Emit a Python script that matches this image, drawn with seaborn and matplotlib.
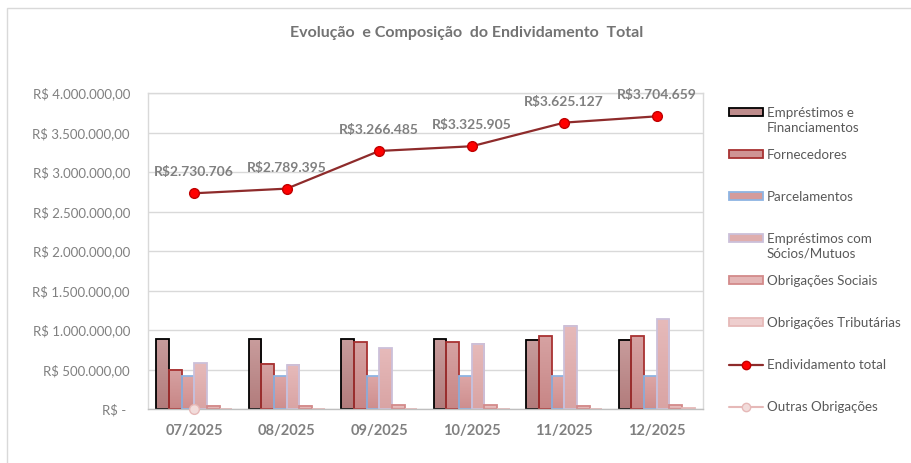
import numpy as np
import pandas as pd
import matplotlib
matplotlib.use("Agg")
import matplotlib.pyplot as plt
import seaborn as sns
from matplotlib.patches import Patch, Rectangle
from matplotlib.lines import Line2D
from matplotlib.ticker import FuncFormatter
from matplotlib.colors import LinearSegmentedColormap

# dados
meses = ["07/2025", "08/2025", "09/2025", "10/2025", "11/2025", "12/2025"]
emprestimos = [882000, 882000, 882000, 886000, 877000, 877000]
fornecedores = [494000, 574000, 844000, 844000, 920000, 920000]
parcelamentos = [414000, 414000, 414000, 414000, 414000, 414000]
socios_mutuos = [582000, 561000, 768000, 827000, 1054000, 1135000]
obrig_sociais = [38000, 38000, 47000, 50000, 38000, 50000]
obrig_tributarias = [0, 0, 0, 0, 0, 12000]
endividamento_total = [2730706, 2789395, 3266485, 3325905, 3625127, 3704659]
outras_obrigacoes = [0, np.nan, np.nan, np.nan, np.nan, np.nan]

series = ["Empréstimos e Financiamentos", "Fornecedores", "Parcelamentos",
          "Empréstimos com Sócios/Mutuos", "Obrigações Sociais", "Obrigações Tributárias"]
legend_lines = ["Empréstimos e\nFinanciamentos", "Fornecedores", "Parcelamentos",
                "Empréstimos com\nSócios/Mutuos", "Obrigações Sociais", "Obrigações Tributárias"]
valores = [emprestimos, fornecedores, parcelamentos, socios_mutuos, obrig_sociais, obrig_tributarias]

faces = ["#BE8C8C", "#CF9494", "#D49B9B", "#DFAEAE", "#E4B6B6", "#EECECE"]
topo = ["#C89C9C", "#D6A2A2", "#DCA6A6", "#E6BABA", "#EBC5C5", "#F2D6D6"]
base = ["#B27C7C", "#C88686", "#CE8E8E", "#D9A4A4", "#E0AEAE", "#EABEBE"]
edges = ["#000000", "#A83232", "#8EB4E3", "#CCC0DA", "#D38A8A", "#E6B9B8"]

rows = []
for s, v in zip(series, valores):
    for m, val in zip(meses, v):
        rows.append({"mes": m, "serie": s, "valor": val})
df = pd.DataFrame(rows)

sns.set_theme(style="white")
plt.rcParams["font.family"] = ["Lato", "DejaVu Sans"]

cinza = "#808080"
fig = plt.figure(figsize=(9.11, 4.63), dpi=100)
ax = fig.add_axes([148 / 911, 1 - 409 / 463, 555 / 911, 316 / 463])

sns.barplot(data=df, x="mes", y="valor", hue="serie", hue_order=series,
            palette=faces, width=0.82, saturation=1, legend=False, ax=ax)
grad = np.linspace(0, 1, 64).reshape(-1, 1)
for cont, ec, c_top, c_base in zip(ax.containers, edges, topo, base):
    cmap = LinearSegmentedColormap.from_list("g", [c_base, c_top])
    for bar in cont:
        bar.set_edgecolor(ec)
        bar.set_linewidth(1.3)
        h = bar.get_height()
        if h > 0:
            bar.set_facecolor("none")
            bx = bar.get_x()
            ax.imshow(grad, extent=(bx, bx + bar.get_width(), 0, h), origin="lower",
                      aspect="auto", cmap=cmap, zorder=bar.get_zorder() - 0.05)

x = np.arange(len(meses))
ax.plot(x, endividamento_total, color="#8E2B2B", lw=1.6, marker="o", ms=7,
        mfc="#FF0000", mec="#C00000", zorder=5)
ax.plot(x, outras_obrigacoes, color="#E6B9B8", lw=1.5, marker="o", ms=7,
        mfc="#F2DCDB", mec="#E6B9B8", zorder=5, clip_on=False)

for xi, v in zip(x, endividamento_total):
    txt = "R$" + f"{v:,.0f}".replace(",", ".")
    ax.annotate(txt, (xi, v), xytext=(0, 15), textcoords="offset points",
                ha="center", va="center", fontsize=10, fontweight="bold", color=cinza)

ax.set_ylim(0, 4000000)
ax.set_xlim(-0.5, 5.5)
ax.set_yticks(np.arange(0, 4000001, 500000))


def fmt(v, pos):
    if v == 0:
        return "R$ - "
    return "R$ " + f"{v:,.2f}".replace(",", "X").replace(".", ",").replace("X", ".")


ax.yaxis.set_major_formatter(FuncFormatter(fmt))
ax.tick_params(axis="y", labelsize=9.5, labelcolor=cinza, length=0, pad=13)
ax.tick_params(axis="x", labelsize=10.5, labelcolor=cinza, length=0, pad=11)
for lbl in ax.get_xticklabels():
    lbl.set_fontweight("bold")
ax.set_xlabel("")
ax.set_ylabel("")
ax.grid(axis="y", color="#D9D9D9", lw=1)
ax.set_axisbelow(True)
for sp in ["left", "top", "right"]:
    ax.spines[sp].set_color("#D9D9D9")
    ax.spines[sp].set_linewidth(1)
ax.spines["bottom"].set_color("#BFBFBF")
ax.spines["bottom"].set_linewidth(1)
# marcas entre categorias
ax.set_xticks(np.arange(-0.5, 6, 1), minor=True)
ax.tick_params(axis="x", which="minor", length=4, color="#BFBFBF", width=1)

fig.suptitle("Evolução  e Composição  do Endividamento  Total", x=467 / 911, y=1 - 33 / 463,
             va="center", fontsize=11.5, fontweight="bold", color="#737373")

# borda externa
fig.add_artist(Rectangle((7 / 911, -0.1), 1, 1 - 8 / 463 + 0.1, transform=fig.transFigure,
                         fill=False, edgecolor="#D9D9D9", lw=1))

handles = [Patch(facecolor=f, edgecolor=e, lw=1.3) for f, e in zip(faces, edges)]
handles.append(Line2D([], [], color="#8E2B2B", lw=1.6, marker="o", ms=6,
                      mfc="#FF0000", mec="#C00000"))
handles.append(Line2D([], [], color="#E6B9B8", lw=1.5, marker="o", ms=6,
                      mfc="#F2DCDB", mec="#E6B9B8"))
first_lines = [t.split("\n")[0] for t in legend_lines] + ["Endividamento total", "Outras Obrigações"]
leg = fig.legend(handles, first_lines, loc="upper left", bbox_to_anchor=(722 / 911, 1 - 100 / 463),
                 frameon=False, fontsize=9.6, labelcolor="#595959", handlelength=2.6,
                 handleheight=0.45, handletextpad=0.25, labelspacing=2.25, borderpad=0)

fig.canvas.draw()
inv = fig.transFigure.inverted()
for t, full in zip(leg.get_texts(), legend_lines):
    if "\n" in full:
        bb = t.get_window_extent()
        x0, y0 = inv.transform((bb.x0, bb.y0 - 3))
        fig.text(x0, y0, full.split("\n")[1], ha="left", va="top", fontsize=9.6, color="#595959")

fig.savefig("out.png", dpi=100)
